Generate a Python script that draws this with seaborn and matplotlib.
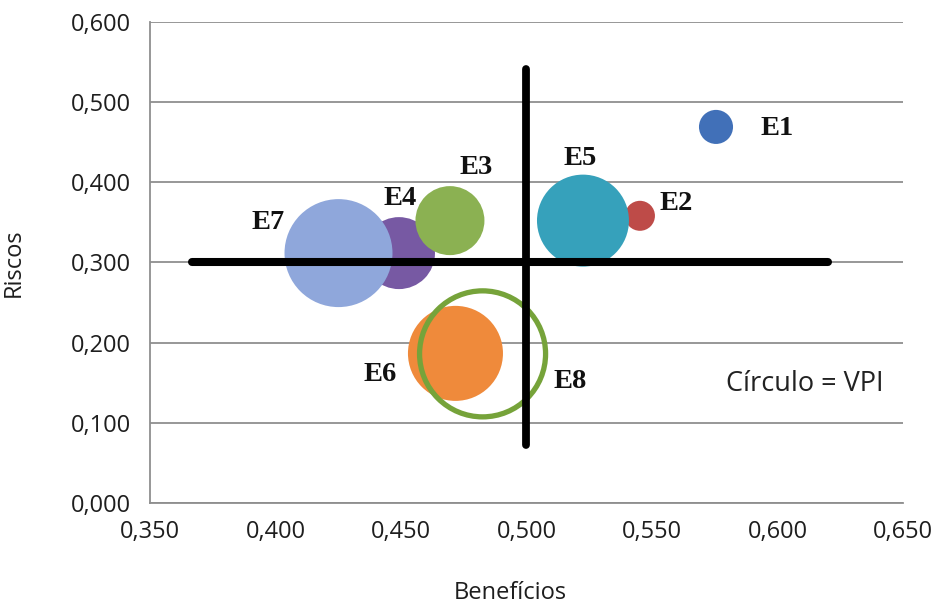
import matplotlib
matplotlib.use("Agg")
import matplotlib.pyplot as plt
import pandas as pd
import seaborn as sns
from matplotlib.ticker import FuncFormatter

# Projects: benefit score, risk score and relative VPI (bubble area)
projects = ["E1", "E2", "E3", "E4", "E5", "E6", "E7", "E8"]
beneficios = [0.5755, 0.5452, 0.4695, 0.4492, 0.5225, 0.4717, 0.4251, 0.4825]
riscos = [0.4688, 0.3580, 0.3520, 0.3115, 0.3520, 0.1865, 0.3115, 0.1859]
vpi = [1.16, 0.90, 4.76, 5.18, 8.46, 9.03, 11.66, 15.88]

# Quadrant dividers
risk_cut = 0.300
benefit_cut = 0.500
risk_cut_span = [0.3667, 0.6200]
benefit_cut_span = [0.072, 0.541]

x_ticks = [0.35, 0.40, 0.45, 0.50, 0.55, 0.60, 0.65]
y_ticks = [0.0, 0.1, 0.2, 0.3, 0.4, 0.5, 0.6]

colors = {
    "E1": "#4170B8",
    "E2": "#BE4B48",
    "E3": "#8BB152",
    "E4": "#7759A3",
    "E5": "#36A1BB",
    "E6": "#EF8A3B",
    "E7": "#8FA7DB",
    "E8": "#76A33A",
}
# label offsets from bubble centre, in points
label_offsets = {
    "E1": (44, -1),
    "E2": (26, 9),
    "E3": (19, 38),
    "E4": (1, 39),
    "E5": (-2, 45),
    "E6": (-54, -15),
    "E7": (-51, 22),
    "E8": (63, -20),
}
draw_order = ["E4", "E3", "E1", "E2", "E5", "E7", "E6"]
ring = "E8"

AREA_PER_UNIT = 518.4  # pt^2 per VPI unit

sns.set_style("white")
plt.rcParams["font.family"] = ["Open Sans", "DejaVu Sans"]

df = pd.DataFrame({"projeto": projects, "beneficios": beneficios,
                   "riscos": riscos, "vpi": vpi})

fig = plt.figure(figsize=(9.34, 6.14), dpi=100)
ax = fig.add_axes([0.1606, 0.1808, 0.8062, 0.7839])

vmax = max(vpi)
filled = df.set_index("projeto").loc[draw_order].reset_index()
sns.scatterplot(data=filled, x="beneficios", y="riscos", hue="projeto",
                palette=colors, size="vpi", sizes=(0, vmax * AREA_PER_UNIT),
                size_norm=(0, vmax), linewidth=0, alpha=1, legend=False,
                ax=ax, zorder=3)

ring_df = df[df["projeto"] == ring]
n_before = len(ax.collections)
sns.scatterplot(data=ring_df, x="beneficios", y="riscos",
                size="vpi", sizes=(0, vmax * AREA_PER_UNIT),
                size_norm=(0, vmax), legend=False, ax=ax, zorder=4)
ring_coll = ax.collections[n_before]
ring_coll.set_facecolor("none")
ring_coll.set_edgecolor(colors[ring])
ring_coll.set_linewidth(3.8)

# quadrant lines
sns.lineplot(x=risk_cut_span, y=[risk_cut, risk_cut], color="black",
             linewidth=5.8, ax=ax, zorder=5, solid_capstyle="round")
sns.lineplot(x=[benefit_cut, benefit_cut], y=benefit_cut_span, color="black",
             linewidth=5.6, ax=ax, zorder=5, solid_capstyle="round",
             orient="y")

for name, bx, by in zip(projects, beneficios, riscos):
    ax.annotate(name, (bx, by), xytext=label_offsets[name],
                textcoords="offset points", ha="center", va="center",
                fontsize=20.5, fontweight="bold", family="Liberation Serif",
                color="#111111", zorder=6)

ax.text(0.611, 0.1484, "Círculo = VPI", ha="center", va="center",
        fontsize=19.5, color="#222222")

ax.set_xlim(0.35, 0.65)
ax.set_ylim(0.0, 0.6)
ax.set_xticks(x_ticks)
ax.set_yticks(y_ticks)
fmt = FuncFormatter(lambda v, _: f"{v:.3f}".replace(".", ","))
ax.xaxis.set_major_formatter(fmt)
ax.yaxis.set_major_formatter(fmt)

ax.yaxis.grid(True, color="#8f8f8f", linewidth=1.3)
ax.xaxis.grid(False)
ax.set_axisbelow(True)
for side in ("top", "right"):
    ax.spines[side].set_visible(False)
for side in ("left", "bottom"):
    ax.spines[side].set_color("#8f8f8f")
    ax.spines[side].set_linewidth(1.3)
ax.tick_params(axis="both", direction="out", length=6.5, width=1.3,
               color="#8f8f8f", labelsize=17, labelcolor="#1e1e1e")
ax.tick_params(axis="y", pad=7)
ax.tick_params(axis="x", pad=6)

ax.set_xlabel("Benefícios", fontsize=17, color="#1e1e1e")
ax.set_ylabel("Riscos", fontsize=17, color="#1e1e1e")
ax.xaxis.set_label_coords(0.478, -0.162)
ax.yaxis.set_label_coords(-0.165, 0.5)

fig.savefig("out.png", dpi=100)
